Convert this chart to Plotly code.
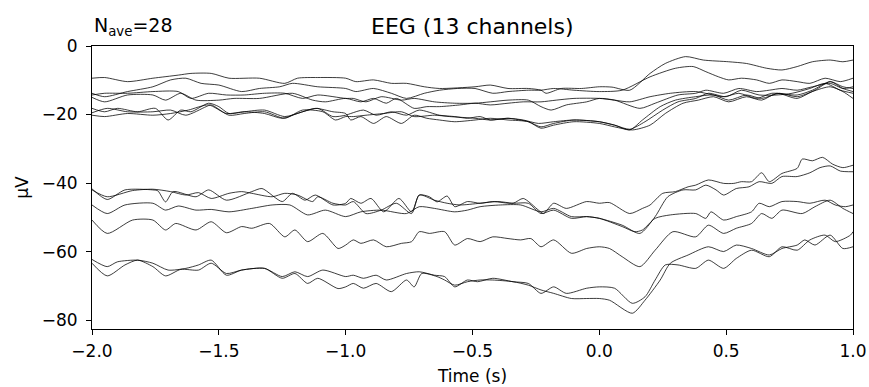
import plotly.graph_objects as go

# ---- data (time in s, amplitude in µV) ----
u1_t = [-2.00, -1.95, -1.86, -1.76, -1.66, -1.61, -1.53, -1.46, -1.34, -1.24, -1.19, -1.11, -1.00,
        -0.96, -0.89, -0.82, -0.76, -0.69, -0.63, -0.49, -0.43, -0.36, -0.28, -0.23, -0.21, -0.15, -0.07, 0.00,
        0.05, 0.12, 0.20, 0.26, 0.34, 0.41, 0.51, 0.58, 0.66, 0.72, 0.78, 0.84, 0.91, 0.96, 1.00]
u1_v = [-9.4, -9.2, -10.4, -9.4, -8.5, -8.0, -8.0, -9.4, -9.4, -10.9, -9.4, -9.2, -9.4,
        -10.4, -9.9, -10.9, -10.9, -11.9, -12.4, -11.9, -11.4, -12.4, -12.4, -12.9, -13.8, -12.4, -12.4, -11.9,
        -12.0, -12.9, -8.0, -5.1, -3.1, -4.1, -4.6, -5.1, -6.5, -7.0, -6.0, -4.6, -4.1, -4.6, -4.1]

u2_t = [-2.00, -1.95, -1.86, -1.76, -1.69, -1.63, -1.57, -1.50, -1.41, -1.34, -1.26, -1.21, -1.11, -1.00,
        -0.96, -0.89, -0.82, -0.76, -0.69, -0.63, -0.56, -0.49, -0.42, -0.36, -0.28, -0.23, -0.18, -0.10, 0.00,
        0.09, 0.20, 0.30, 0.37, 0.42, 0.47, 0.51, 0.56, 0.62, 0.67, 0.72, 0.78, 0.83, 0.89, 0.95, 1.00]
u2_v = [-13.8, -14.8, -13.3, -11.9, -9.9, -9.4, -10.9, -11.4, -13.3, -12.4, -11.9, -10.9, -11.9, -12.4,
        -13.3, -12.4, -13.8, -15.3, -13.8, -12.9, -12.4, -12.4, -13.8, -13.3, -12.9, -12.9, -12.4, -12.9, -13.3,
        -12.9, -9.0, -6.5, -6.0, -7.5, -9.0, -9.9, -9.4, -9.9, -10.9, -9.9, -10.4, -10.9, -9.4, -10.4, -9.4]

u3_t = [-2.00, -1.95, -1.86, -1.76, -1.66, -1.61, -1.54, -1.47, -1.40, -1.32, -1.24, -1.17, -1.11, -1.00,
        -0.97, -0.92, -0.86, -0.78, -0.73, -0.65, -0.57, -0.49, -0.43, -0.36, -0.28, -0.23, -0.19, -0.13, -0.05, 0.00,
        0.06, 0.16, 0.22, 0.31, 0.38, 0.42, 0.49, 0.55, 0.62, 0.67, 0.72, 0.78, 0.84, 0.91, 0.96, 1.00]
u3_v = [-14.3, -13.8, -13.8, -13.3, -13.3, -15.3, -13.8, -14.3, -14.3, -13.8, -13.8, -15.3, -14.3, -15.3,
        -15.3, -16.3, -14.8, -15.8, -15.3, -16.3, -16.7, -16.7, -16.3, -15.8, -15.8, -17.7, -18.7, -17.2, -16.3, -15.3,
        -15.8, -18.2, -16.7, -14.3, -13.8, -12.9, -13.8, -12.4, -13.3, -12.9, -12.4, -12.9, -11.9, -10.9, -12.4, -11.9]

u4_t = [-2.00, -1.95, -1.86, -1.76, -1.71, -1.65, -1.59, -1.50, -1.44, -1.34, -1.21, -1.13, -1.08, -1.00,
        -0.94, -0.89, -0.84, -0.80, -0.73, -0.68, -0.63, -0.55, -0.49, -0.43, -0.36, -0.30, -0.23, -0.17, -0.10, 0.00,
        0.06, 0.12, 0.20, 0.28, 0.38, 0.49, 0.55, 0.62, 0.68, 0.78, 0.84, 0.91, 0.96, 1.00]
u4_v = [-15.0, -16.3, -14.3, -14.3, -15.8, -13.8, -15.8, -15.8, -15.3, -15.3, -13.8, -15.8, -16.3, -15.3,
        -16.3, -15.3, -16.7, -15.3, -18.2, -17.7, -17.7, -17.2, -16.7, -17.2, -16.7, -16.3, -16.3, -15.8, -15.3, -15.3,
        -15.8, -16.3, -14.8, -13.8, -13.3, -14.8, -13.8, -15.3, -13.8, -14.3, -12.9, -10.4, -12.4, -13.3]

u5_t = [-2.00, -1.95, -1.90, -1.82, -1.75, -1.70, -1.65, -1.61, -1.54, -1.50, -1.46, -1.40, -1.32, -1.24, -1.17, -1.11, -1.05, -1.00,
        -0.98, -0.93, -0.88, -0.82, -0.76, -0.71, -0.63, -0.57, -0.52, -0.47, -0.43, -0.36, -0.30, -0.24, -0.18, -0.10, 0.00,
        0.06, 0.12, 0.17, 0.24, 0.30, 0.38, 0.45, 0.51, 0.58, 0.64, 0.71, 0.78, 0.85, 0.91, 0.96, 1.00]
u5_v = [-18.2, -19.2, -18.2, -19.2, -18.2, -21.6, -18.7, -19.2, -16.7, -17.7, -19.7, -19.2, -18.7, -20.6, -19.2, -18.2, -20.6, -20.2,
        -19.7, -18.7, -20.2, -19.2, -20.2, -18.7, -20.2, -20.6, -21.1, -20.6, -21.6, -21.1, -21.6, -22.6, -22.1, -21.6, -22.1,
        -23.1, -24.5, -21.6, -17.7, -15.8, -14.8, -14.3, -15.8, -14.3, -15.3, -13.8, -14.8, -12.9, -10.4, -11.9, -12.4]

u6_t = [-2.00, -1.94, -1.86, -1.76, -1.69, -1.63, -1.55, -1.53, -1.46, -1.40, -1.32, -1.24, -1.17, -1.09, -1.04, -1.00,
        -0.97, -0.92, -0.85, -0.78, -0.73, -0.65, -0.59, -0.49, -0.43, -0.36, -0.28, -0.23, -0.18, -0.10, 0.00,
        0.06, 0.12, 0.18, 0.25, 0.31, 0.38, 0.43, 0.50, 0.56, 0.63, 0.70, 0.76, 0.83, 0.89, 0.95, 1.00]
u6_v = [-19.5, -18.2, -19.2, -19.2, -18.7, -20.2, -17.7, -17.2, -20.2, -19.7, -19.2, -21.1, -18.7, -19.2, -21.6, -20.6,
        -20.6, -20.2, -19.7, -19.2, -20.6, -20.2, -20.6, -21.1, -21.6, -21.1, -22.1, -23.6, -22.6, -21.6, -22.1,
        -23.1, -24.3, -22.1, -18.7, -16.3, -15.3, -13.8, -14.8, -12.9, -14.3, -14.3, -13.8, -12.4, -10.9, -12.9, -13.8]

u7_t = [-2.00, -1.95, -1.86, -1.76, -1.69, -1.62, -1.54, -1.47, -1.40, -1.32, -1.25, -1.19, -1.12, -1.05, -1.00,
        -0.98, -0.94, -0.89, -0.84, -0.78, -0.73, -0.68, -0.63, -0.57, -0.49, -0.43, -0.36, -0.28, -0.23, -0.18, -0.10, 0.00,
        0.06, 0.13, 0.20, 0.26, 0.33, 0.39, 0.45, 0.51, 0.58, 0.64, 0.70, 0.78, 0.84, 0.91, 0.96, 1.00]
u7_v = [-20.2, -20.6, -19.7, -20.2, -19.7, -18.7, -17.2, -19.7, -19.2, -19.7, -21.1, -19.7, -18.2, -19.2, -19.7,
        -21.6, -20.6, -22.6, -20.6, -22.6, -20.2, -21.1, -21.6, -22.1, -21.6, -21.1, -21.6, -22.1, -24.0, -23.1, -22.1, -22.6,
        -23.6, -24.5, -23.1, -19.7, -16.7, -15.8, -14.8, -16.3, -14.8, -15.8, -13.8, -15.3, -13.3, -11.9, -13.3, -15.3]

la_t = [-2.00, -1.94, -1.87, -1.76, -1.74, -1.71, -1.68, -1.59, -1.54, -1.47, -1.37, -1.33, -1.25, -1.21, -1.16, -1.12, -1.05, -1.00,
        -0.98, -0.94, -0.90, -0.85, -0.79, -0.74, -0.71, -0.67, -0.64, -0.60, -0.57, -0.52, -0.47, -0.42, -0.34, -0.30, -0.24, -0.22, -0.18, -0.13, -0.05, 0.00,
        0.04, 0.12, 0.17, 0.20, 0.25, 0.30, 0.35, 0.38, 0.43, 0.49, 0.53, 0.56, 0.60, 0.64, 0.67, 0.72, 0.78, 0.80, 0.84, 0.88, 0.92, 0.96, 1.00]
la_v = [-41.7, -44.8, -42.0, -42.0, -42.3, -45.5, -42.5, -44.0, -42.0, -45.0, -42.5, -41.6, -45.4, -43.0, -45.0, -43.5, -46.4, -45.9,
        -44.5, -45.9, -44.5, -48.4, -44.5, -48.4, -43.5, -44.0, -45.5, -43.8, -46.9, -45.4, -45.9, -45.4, -45.9, -44.5, -47.9, -48.9, -45.9, -47.4, -45.4, -45.9,
        -45.7, -48.9, -47.4, -46.4, -43.0, -42.5, -41.1, -40.6, -39.1, -40.1, -40.1, -39.6, -39.6, -37.0, -39.6, -37.2, -35.7, -33.0, -33.5, -32.5, -34.5, -35.5, -34.8]

lb_t = [-2.00, -1.94, -1.84, -1.76, -1.69, -1.63, -1.58, -1.53, -1.46, -1.41, -1.37, -1.29, -1.24, -1.19, -1.13, -1.11, -1.05, -1.00,
        -0.97, -0.92, -0.86, -0.80, -0.74, -0.71, -0.65, -0.60, -0.55, -0.47, -0.40, -0.34, -0.28, -0.23, -0.18, -0.11, -0.05, 0.00,
        0.09, 0.16, 0.22, 0.27, 0.33, 0.38, 0.42, 0.46, 0.49, 0.54, 0.59, 0.63, 0.68, 0.72, 0.78, 0.83, 0.87, 0.91, 0.95, 1.00]
lb_v = [-42.0, -44.0, -42.2, -41.8, -42.5, -43.5, -42.8, -44.5, -43.0, -42.5, -43.0, -44.0, -43.0, -43.5, -45.4, -44.0, -45.9, -46.4,
        -45.4, -48.9, -47.9, -45.9, -48.9, -43.5, -45.0, -45.9, -46.4, -45.9, -45.4, -45.9, -45.9, -48.9, -47.9, -50.3, -49.8, -50.3,
        -52.3, -54.7, -49.8, -44.0, -42.0, -42.0, -40.6, -42.0, -43.5, -41.6, -41.1, -39.6, -40.1, -38.1, -38.1, -37.0, -35.5, -35.0, -36.5, -36.7]

lc_t = [-2.00, -1.94, -1.87, -1.76, -1.71, -1.66, -1.59, -1.53, -1.46, -1.37, -1.29, -1.22, -1.15, -1.08, -1.00,
        -0.94, -0.86, -0.76, -0.71, -0.65, -0.57, -0.52, -0.47, -0.39, -0.31, -0.23, -0.18, -0.11, -0.05, 0.00,
        0.09, 0.14, 0.17, 0.22, 0.28, 0.38, 0.42, 0.44, 0.49, 0.54, 0.60, 0.63, 0.67, 0.72, 0.78, 0.83, 0.89, 0.93, 0.97, 1.00]
lc_v = [-46.4, -48.9, -46.4, -45.9, -47.9, -46.7, -47.9, -47.7, -48.4, -47.4, -46.4, -46.4, -49.3, -47.9, -49.8,
        -48.4, -47.9, -48.9, -46.9, -47.4, -48.4, -47.9, -46.9, -46.4, -46.4, -48.4, -47.4, -49.8, -49.8, -50.3,
        -52.7, -54.2, -53.7, -50.3, -49.3, -48.9, -50.3, -48.4, -50.8, -49.8, -48.4, -45.9, -46.9, -45.4, -45.4, -45.9, -45.0, -46.4, -46.9, -46.4]

ld_t = [-2.00, -1.94, -1.84, -1.76, -1.71, -1.67, -1.59, -1.53, -1.47, -1.41, -1.37, -1.30, -1.24, -1.20, -1.15, -1.09, -1.03, -1.00,
        -0.97, -0.94, -0.89, -0.84, -0.78, -0.74, -0.71, -0.67, -0.61, -0.57, -0.52, -0.47, -0.42, -0.36, -0.31, -0.27, -0.23, -0.18, -0.11, -0.05, 0.00,
        0.04, 0.09, 0.16, 0.22, 0.29, 0.38, 0.43, 0.49, 0.54, 0.60, 0.64, 0.68, 0.72, 0.80, 0.85, 0.91, 0.96, 1.00]
ld_v = [-50.8, -54.7, -50.8, -50.8, -53.7, -51.8, -53.7, -51.3, -54.5, -52.7, -53.2, -51.8, -55.7, -53.7, -57.1, -54.7, -59.1, -58.1,
        -56.6, -57.6, -56.6, -58.6, -57.6, -57.1, -54.2, -54.7, -54.2, -58.1, -56.2, -57.1, -55.7, -56.2, -56.6, -56.2, -58.6, -56.6, -60.5, -59.1, -58.6,
        -59.1, -61.5, -64.4, -59.6, -54.2, -55.7, -52.3, -54.7, -53.2, -51.8, -48.9, -50.3, -47.9, -48.9, -46.9, -45.0, -47.4, -48.9]

le_t = [-2.00, -1.94, -1.90, -1.82, -1.76, -1.70, -1.63, -1.58, -1.53, -1.47, -1.41, -1.32, -1.25, -1.20, -1.15, -1.09, -1.00,
        -0.97, -0.93, -0.88, -0.84, -0.76, -0.71, -0.65, -0.61, -0.57, -0.52, -0.48, -0.42, -0.34, -0.28, -0.23, -0.18, -0.13, -0.05, 0.00,
        0.06, 0.13, 0.18, 0.22, 0.26, 0.31, 0.38, 0.43, 0.49, 0.54, 0.60, 0.67, 0.72, 0.78, 0.83, 0.89, 0.93, 0.99, 1.00]
le_v = [-62.3, -64.4, -63.0, -62.5, -63.4, -65.4, -64.9, -63.9, -62.5, -66.9, -65.4, -64.9, -67.3, -65.9, -67.3, -65.4, -67.3,
        -66.9, -67.8, -66.9, -68.3, -66.4, -65.9, -66.9, -67.3, -70.3, -68.3, -68.8, -67.8, -68.8, -69.3, -72.2, -70.3, -72.2, -70.7, -70.3,
        -70.7, -75.1, -73.2, -68.3, -63.9, -63.9, -64.9, -62.5, -64.9, -62.0, -59.6, -61.5, -58.6, -59.6, -56.6, -55.2, -57.1, -55.2, -54.2]

lf_t = [-2.00, -1.94, -1.87, -1.82, -1.76, -1.71, -1.65, -1.58, -1.53, -1.47, -1.41, -1.32, -1.25, -1.20, -1.15, -1.11, -1.03, -1.00,
        -0.97, -0.93, -0.88, -0.82, -0.76, -0.73, -0.70, -0.64, -0.61, -0.57, -0.52, -0.47, -0.42, -0.34, -0.28, -0.23, -0.18, -0.11, -0.05, 0.00,
        0.04, 0.13, 0.18, 0.24, 0.28, 0.35, 0.43, 0.49, 0.54, 0.60, 0.67, 0.72, 0.78, 0.81, 0.85, 0.91, 0.96, 1.00]
lf_v = [-63.4, -67.1, -63.9, -62.5, -64.4, -67.1, -65.2, -65.4, -63.4, -66.4, -65.4, -64.9, -67.8, -66.4, -69.3, -67.8, -70.8, -70.3,
        -69.3, -70.7, -69.3, -71.7, -68.3, -70.3, -66.4, -67.3, -68.3, -69.8, -68.8, -68.3, -68.3, -68.8, -69.8, -71.2, -72.2, -73.7, -73.7, -73.7,
        -74.2, -78.0, -74.2, -68.3, -63.4, -61.0, -58.6, -60.0, -58.1, -59.1, -61.0, -59.1, -58.1, -56.6, -58.1, -55.2, -59.1, -58.6]

channels = [(u1_t, u1_v), (u2_t, u2_v), (u3_t, u3_v), (u4_t, u4_v), (u5_t, u5_v),
            (u6_t, u6_v), (u7_t, u7_v), (la_t, la_v), (lb_t, lb_v), (lc_t, lc_v),
            (ld_t, ld_v), (le_t, le_v), (lf_t, lf_v)]

x_ticks = [-2.0, -1.5, -1.0, -0.5, 0.0, 0.5, 1.0]
y_ticks = [0, -20, -40, -60, -80]
title_text = "EEG (13 channels)"
nave_text = "N<sub>ave</sub>=28"

FONT = "DejaVu Sans"

fig = go.Figure()
for t, v in channels:
    fig.add_trace(go.Scatter(x=t, y=v, mode="lines",
                             line=dict(color="rgba(0,0,0,0.85)", width=0.9, shape="spline", smoothing=0.7),
                             showlegend=False, hoverinfo="skip"))

fig.update_layout(
    template="none",
    width=869, height=387,
    margin=dict(l=92, r=16, t=46, b=58, pad=0),
    paper_bgcolor="white", plot_bgcolor="white",
    font=dict(family=FONT, size=17, color="black"),
    xaxis=dict(range=[-2.0, 1.0], tickvals=x_ticks, ticktext=[f"{x:.1f}".replace("-", "\u2212") for x in x_ticks],
               showline=True, mirror=True, linecolor="black", linewidth=1, automargin=False,
               ticks="outside", ticklen=5, tickwidth=1, tickcolor="black", showgrid=False, zeroline=False,
               tickfont=dict(size=17), ticklabelstandoff=2,
               title=dict(text="Time (s)", font=dict(size=17), standoff=9)),
    yaxis=dict(range=[-82.6, 0], tickvals=y_ticks, ticktext=[str(y).replace("-", "\u2212") for y in y_ticks],
               showline=True, mirror=True, linecolor="black", linewidth=1, automargin=False,
               ticks="outside", ticklen=5, tickwidth=1, tickcolor="black", showgrid=False, zeroline=False,
               tickfont=dict(size=17), ticklabelstandoff=5,
               title=dict(text="µV", font=dict(size=17), standoff=8)),
    annotations=[
        dict(text=title_text, xref="paper", yref="paper", x=0.5, y=1.0, yshift=5,
             xanchor="center", yanchor="bottom", showarrow=False, font=dict(size=22)),
        dict(text=nave_text, xref="paper", yref="paper", x=0.0, y=1.0, yshift=5,
             xanchor="left", yanchor="bottom", showarrow=False, font=dict(size=19)),
    ],
)

fig.write_html("out.html")
